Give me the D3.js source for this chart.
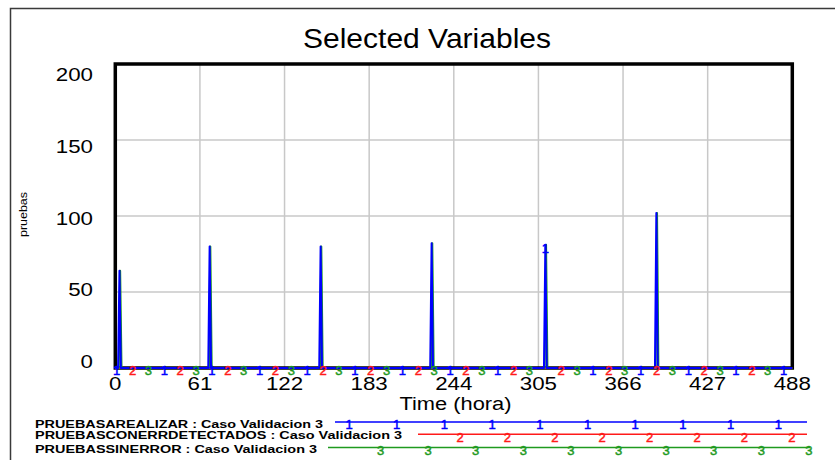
<!DOCTYPE html>
<html>
<head>
<meta charset="utf-8">
<script src="https://cdn.jsdelivr.net/npm/d3@7"></script>
<style>
  html, body { margin: 0; padding: 0; background: #ffffff; }
  svg { display: block; font-family: "Liberation Sans", Arial, sans-serif; }
</style>
</head>
<body>
<svg id="chart" width="835" height="460"></svg>
<script>
// ---- data -------------------------------------------------------------
const timeTicks = [0, 61, 122, 183, 244, 305, 366, 427, 488];
const valueTicks = [0, 50, 100, 150, 200];

// peak times (hora) and peak values of each variable; zero elsewhere
const realizarTimes = [3, 68, 148, 228, 310, 390];
const pruebasARealizar = [64, 80, 80, 82, 81, 102];

const conErrTimes = [3, 68, 148, 228, 310, 390];
const pruebasConErrDetectados = [0, 0, 0, 0, 0, 0];

const sinErrorTimes = [3.5, 68.5, 148.5, 228.5, 310.5, 390.5];
const pruebasSinError = [64, 80, 80, 82, 81, 102];

const seriesNames = [
  "PRUEBASAREALIZAR : Caso Validacion 3",
  "PRUEBASCONERRDETECTADOS : Caso Validacion 3",
  "PRUEBASSINERROR : Caso Validacion 3"
];
const seriesLabels = ["1", "2", "3"];
const seriesColors = ["#0000ff", "#ff1a1a", "#1f9a1f"];

// ---- layout -----------------------------------------------------------
const svg = d3.select("#chart");
const tStart = 0, tEnd = 488;

const x = d3.scaleLinear().domain([tStart, tEnd]).range([115.3, 792.3]);
const y = d3.scaleLinear().domain([0, 200]).range([368, 64]);
// tick labels sit on their own slightly tighter ladder
const yLabel = d3.scaleLinear().domain([0, 200]).range([368.3, 80.7]);

function spikeSeries(times, values) {
  const pts = [[tStart, 0]];
  times.forEach((t, i) => {
    pts.push([t - 1, 0], [t, values[i]], [t + 1, 0]);
  });
  pts.push([tEnd, 0]);
  return pts;
}
function valueAt(pts, t) {
  for (let i = 1; i < pts.length; i++) {
    const [t0, v0] = pts[i - 1], [t1, v1] = pts[i];
    if (t >= t0 && t <= t1) {
      return t1 === t0 ? v1 : v0 + (v1 - v0) * (t - t0) / (t1 - t0);
    }
  }
  return 0;
}
function stretchedText(parent, px, py, str, opts) {
  const t = parent.append("text")
    .attr("x", px).attr("y", py)
    .attr("text-anchor", opts.anchor || "start")
    .attr("font-size", opts.size)
    .attr("font-weight", opts.weight || "normal")
    .attr("fill", opts.fill || "#000")
    .text(str);
  if (opts.width) {
    t.attr("textLength", opts.width).attr("lengthAdjust", "spacingAndGlyphs");
  }
  return t;
}
function markerText(parent, px, py, i) {
  parent.append("text")
    .attr("x", px).attr("y", py + 7.3)
    .attr("text-anchor", "middle")
    .attr("font-size", 13)
    .attr("fill", seriesColors[i])
    .attr("stroke", seriesColors[i])
    .attr("stroke-width", 0.5)
    .text(seriesLabels[i]);
}

// outer frame of the window
svg.append("path")
  .attr("d", "M10.5,460 L10.5,8.5 L835,8.5")
  .attr("fill", "none").attr("stroke", "#3a3a3a").attr("stroke-width", 1.5);

// title
stretchedText(svg, 427, 48, "Selected Variables", { anchor: "middle", size: 28, width: 248 });

// grid
const grid = svg.append("g");
grid.selectAll("line.v").data(timeTicks).join("line")
  .attr("x1", d => x(d)).attr("x2", d => x(d))
  .attr("y1", y(200)).attr("y2", y(0))
  .attr("stroke", "#c8c8c8").attr("stroke-width", 1.5);
grid.selectAll("line.h").data(valueTicks).join("line")
  .attr("x1", x(tStart)).attr("x2", x(tEnd))
  .attr("y1", d => y(d)).attr("y2", d => y(d))
  .attr("stroke", "#c8c8c8").attr("stroke-width", 1.5);

// plot frame
svg.append("rect")
  .attr("x", x(tStart)).attr("y", y(200))
  .attr("width", x(tEnd) - x(tStart)).attr("height", y(0) - y(200))
  .attr("fill", "none").attr("stroke", "#000").attr("stroke-width", 3.5);

// tick labels
const yLabels = svg.append("g");
valueTicks.forEach(v => {
  const w = String(v).length * 12.4;
  stretchedText(yLabels, 93, yLabel(v), String(v), { anchor: "end", size: 19, width: w });
});
const xLabels = svg.append("g");
timeTicks.forEach(t => {
  const w = String(t).length * 12.4;
  stretchedText(xLabels, x(t), 390, String(t), { anchor: "middle", size: 19, width: w });
});

// axis titles
stretchedText(svg, 455.5, 410, "Time (hora)", { anchor: "middle", size: 18, width: 112 });
stretchedText(svg, 0, 0, "pruebas", { anchor: "middle", size: 10, width: 45 })
  .attr("transform", "translate(27,214.5) rotate(-90)");

// series
const allSeries = [
  spikeSeries(realizarTimes, pruebasARealizar),
  spikeSeries(conErrTimes, pruebasConErrDetectados),
  spikeSeries(sinErrorTimes, pruebasSinError)
];
const line = d3.line().x(d => x(d[0])).y(d => y(d[1]));
const plot = svg.append("g");
[1, 2, 0].forEach(i => {
  plot.append("path")
    .attr("d", line(allSeries[i]))
    .attr("fill", "none")
    .attr("stroke", seriesColors[i])
    .attr("stroke-width", 2)
    .attr("stroke-linejoin", "round");
});

// numbered markers along each line
const markerStep = 34.333, markerStart = 1;
const markers = svg.append("g");
allSeries.forEach((pts, i) => {
  for (let k = 0; ; k++) {
    const t = markerStart + markerStep * (k + i / 3);
    if (t > tEnd) break;
    markerText(markers, x(t), y(valueAt(pts, t)), i);
  }
});

// legend
const legendRows = [
  { textY: 427.7, lineY: 422, lineX0: 335, lineX1: 807, textW: 288, mark0: 349, step: 47.7 },
  { textY: 439.3, lineY: 434.3, lineX0: 418, lineX1: 807, textW: 367, mark0: 460, step: 47.4 },
  { textY: 453.3, lineY: 447.5, lineX0: 328, lineX1: 810, textW: 282, mark0: 380.5, step: 47.6 }
];
const legend = svg.append("g");
legendRows.forEach((r, i) => {
  stretchedText(legend, 35, r.textY, seriesNames[i], { size: 11.5, weight: "bold", width: r.textW });
  legend.append("line")
    .attr("x1", r.lineX0).attr("x2", r.lineX1)
    .attr("y1", r.lineY).attr("y2", r.lineY)
    .attr("stroke", seriesColors[i]).attr("stroke-width", 1.5);
  for (let mx = r.mark0; mx <= r.lineX1 + 0.5; mx += r.step) {
    markerText(legend, mx, r.lineY, i);
  }
});
</script>
</body>
</html>
